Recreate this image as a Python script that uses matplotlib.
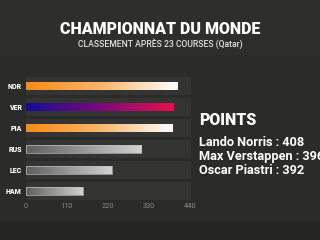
import numpy as np
import matplotlib
matplotlib.use("Agg")
import matplotlib.pyplot as plt
from matplotlib.colors import LinearSegmentedColormap
from matplotlib.patches import Rectangle

drivers = ["NOR", "VER", "PIA", "RUS", "LEC", "HAM"]
points = [408, 396, 392, 309, 230, 152]
xticks = [0, 110, 220, 330, 440]
title = "CHAMPIONNAT DU MONDE"
subtitle = "CLASSEMENT APRÈS 23 COURSES (Qatar)"
legend_title = "POINTS"
legend_lines = ["Lando Norris : 408", "Max Verstappen : 396", "Oscar Piastri : 392"]

grad_colors = {
    "NOR": ["#f68b17", "#f9b66a", "#ffffff"],
    "VER": ["#150c98", "#7a0a7a", "#e8104c"],
    "PIA": ["#f68b17", "#f9b66a", "#ffffff"],
    "RUS": ["#5e5e5e", "#d2d2d2"],
    "LEC": ["#5e5e5e", "#d2d2d2"],
    "HAM": ["#5e5e5e", "#d2d2d2"],
}

plt.rcParams['font.family'] = ['Roboto', 'DejaVu Sans']
bg = "#2b2c2a"
fig = plt.figure(figsize=(3.2, 2.4), dpi=100, facecolor=bg)
# header & footer bands
fig.patches.append(Rectangle((0, 1 - 55/240), 1, 55/240, transform=fig.transFigure,
                             facecolor="#2e2f2d", edgecolor="none", zorder=-10))
fig.patches.append(Rectangle((0, 0), 1, 18/240, transform=fig.transFigure,
                             facecolor="#252624", edgecolor="none", zorder=-10))

ax = fig.add_axes([26/320, 1 - 201.5/240, 165/320, 126/240])
ax.set_facecolor("none")
ypos = np.arange(len(drivers))

# row panels
for y in ypos:
    ax.add_patch(Rectangle((0, y - 0.42), 443, 0.84, facecolor="#343533",
                           edgecolor="none", zorder=0))

bars = ax.barh(ypos, points, height=0.42, color="none", edgecolor="none", zorder=2)
for bar, d in zip(bars, drivers):
    cmap = LinearSegmentedColormap.from_list(d, grad_colors[d])
    x0, y0 = bar.get_x(), bar.get_y()
    w, h = bar.get_width(), bar.get_height()
    grad = np.linspace(0, 1, 256).reshape(1, -1)
    im = ax.imshow(grad, cmap=cmap, aspect="auto", extent=(x0, x0 + w, y0 + h, y0),
                   zorder=3, interpolation="bilinear")
    im.set_clip_path(bar)
    if d in ("RUS", "LEC", "HAM"):
        ax.add_patch(Rectangle((x0, y0), w, h, facecolor="none", edgecolor="#bdbdbd",
                               linewidth=0.5, zorder=4))
ax.set_xlim(0, 443)
ax.set_ylim(len(drivers) - 0.5, -0.5)

ax.set_yticks(ypos)
ax.set_yticklabels(drivers, fontsize=5, fontweight="black", color="white")
ax.set_xticks(xticks)
ax.set_xticklabels([str(t) for t in xticks], fontsize=5.3, color="#8a8a88")
ax.tick_params(axis="both", length=0)
ax.tick_params(axis="x", pad=1)
ax.tick_params(axis="y", pad=3)
for s in ax.spines.values():
    s.set_visible(False)

fig.text(0.5, 1 - 29/240, title, ha="center", va="center", fontsize=11.5,
         fontweight="black", color="white")
fig.text(0.5, 1 - 44/240, subtitle, ha="center", va="center", fontsize=6.2,
         fontweight="medium", color="#e0e0e0")
fig.text(199/320, 1 - 120/240, legend_title, ha="left", va="center", fontsize=11.5,
         fontweight="black", color="white")
for i, line in enumerate(legend_lines):
    fig.text(199/320, 1 - (143 + i * 13.5)/240, line, ha="left", va="center",
             fontsize=9.2, fontweight="bold", color="white")

fig.savefig("out.png", dpi=100, facecolor=bg)
